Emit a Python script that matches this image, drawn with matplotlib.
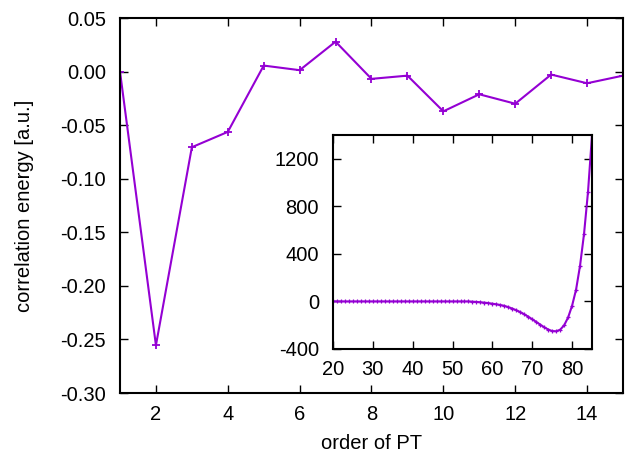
import numpy as np
import matplotlib.pyplot as plt

plt.rcParams['font.family'] = ['Liberation Sans', 'DejaVu Sans']
plt.rcParams['font.size'] = 14.5
plt.rcParams['axes.unicode_minus'] = False

# main panel: correlation energy per order of PT
order = [1, 2, 3, 4, 5, 6, 7, 8, 9, 10, 11, 12, 13, 14, 15]
energy = [0.0, -0.2555, -0.0706, -0.0563, 0.0056, 0.0013, 0.0279, -0.0068,
          -0.0038, -0.0371, -0.0212, -0.0300, -0.0028, -0.0109, -0.0038]
yticks = [-0.30, -0.25, -0.20, -0.15, -0.10, -0.05, 0.00, 0.05]
ylabels = ['-0.30', '-0.25', '-0.20', '-0.15', '-0.10', '-0.05', '0.00', '0.05']

# inset: high orders (20..85)
order_hi = list(range(20, 86))
energy_hi = [0] * 35 + [-2, -4, -7, -10, -14, -19, -24, -30, -37, -48, -60, -74,
                        -90, -108, -128, -150, -172, -195, -217, -236, -249,
                        -251, -238, -201, -135, -36, 99, 301, 568, 922, 1400]

color = '#9400d3'

fig = plt.figure(figsize=(6.26, 4.58), dpi=100)
ax = fig.add_axes([120 / 626, 65 / 458, 503 / 626, 375 / 458])
ax.plot(order, energy, color=color, lw=1.5, marker='+', ms=6, mew=1.3)
ax.set_xlim(1, 15)
ax.set_ylim(-0.30, 0.05)
ax.set_xticks([2, 4, 6, 8, 10, 12, 14])
ax.set_yticks(yticks)
ax.set_yticklabels(ylabels)
ax.tick_params(direction='in', top=True, right=True, length=6, width=1)
ax.tick_params(axis='x', pad=9)
ax.tick_params(axis='y', pad=10)
ax.set_xlabel('order of PT', labelpad=7)
ax.set_ylabel('correlation energy [a.u.]', labelpad=19)
for s in ax.spines.values():
    s.set_linewidth(1.5)

ins = fig.add_axes([333 / 626, 109 / 458, 259 / 626, 214 / 458])
ins.plot(order_hi, energy_hi, color=color, lw=1.5, marker='+', ms=3, mew=0.9)
ins.set_xlim(20, 85)
ins.set_ylim(-400, 1400)
ins.set_xticks([20, 30, 40, 50, 60, 70, 80])
ins.set_yticks([-400, 0, 400, 800, 1200])
ins.tick_params(direction='in', top=True, right=True, length=6, width=1)
ins.tick_params(axis='x', pad=8)
ins.tick_params(axis='y', pad=10)
for s in ins.spines.values():
    s.set_linewidth(1.5)

fig.savefig('out.png', dpi=100)
